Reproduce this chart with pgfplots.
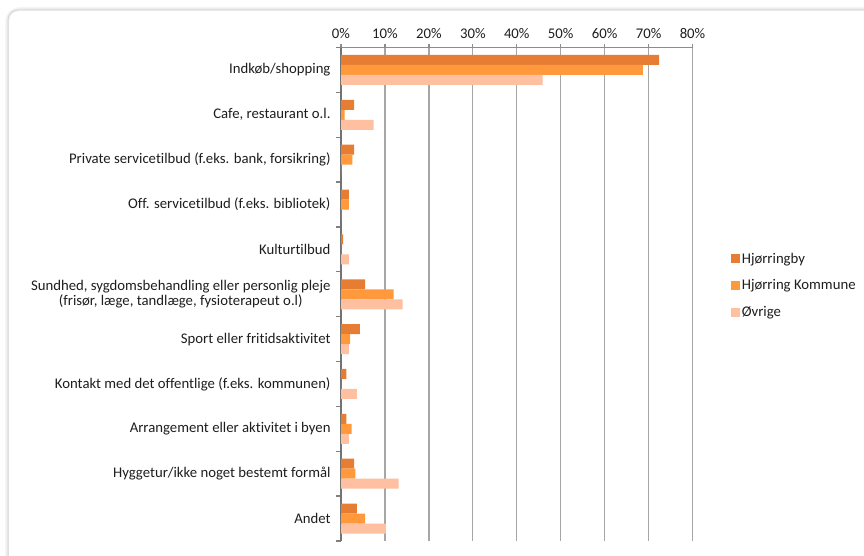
\documentclass[border=0pt]{standalone}
\usepackage{fontspec}
\setmainfont{Carlito}[Ligatures=NoCommon]
\usepackage{pgfplots}
\pgfplotsset{compat=1.18}
\definecolor{cH}{RGB}{230,125,50}
\definecolor{cK}{RGB}{255,153,60}
\definecolor{cO}{RGB}{255,192,162}
\definecolor{txt}{RGB}{30,30,30}
\begin{document}
\begin{tikzpicture}
\useasboundingbox (0,0) rectangle (864bp,556bp);
\fill[white] (0,0) rectangle (864bp,556bp);
\draw[black!4, line width=6bp, rounded corners=12bp] (8bp,-30bp) rectangle (900bp,546bp);
\draw[black!8, line width=3bp, rounded corners=11bp] (8bp,-30bp) rectangle (900bp,546bp);
\draw[black!14, line width=1bp, rounded corners=10bp] (8bp,-30bp) rectangle (900bp,546bp);
\fill[white, rounded corners=10bp] (9bp,-30bp) rectangle (900bp,545bp);
\begin{axis}[
  at={(341bp,15bp)}, anchor=south west, scale only axis,
  width=351.5bp, height=493.5bp,
  xmin=0, xmax=80, ymin=-0.5, ymax=10.5, y dir=reverse,
  axis x line*=top, axis y line*=left,
  x axis line style={draw=black!45, line width=1.6bp, -},
  y axis line style={draw=black!55, line width=2bp, -},
  xtick={0,10,...,80},
  xticklabels={0\%,10\%,20\%,30\%,40\%,50\%,60\%,70\%,80\%},
  xticklabel style={font=\fontsize{14.8}{17.5}\selectfont, text=txt, yshift=1bp},
  xmajorgrids, major x grid style={draw=black!35, line width=1.3bp},
  major x tick style={draw=black!45, line width=1.3bp},
  tick align=outside, major tick length=4bp, minor tick length=5bp,
  ytick={0,...,10},
  yticklabels={Indkøb/shopping, {Cafe, restaurant o.l.}, {Private servicetilbud (f.eks. bank, forsikring)}, Off. servicetilbud (f.eks. bibliotek), Kulturtilbud, {Sundhed, sygdomsbehandling eller personlig pleje \\ (frisør, læge, tandlæge, fysioterapeut o.l)}, Sport eller fritidsaktivitet, {Kontakt med det offentlige (f.eks. kommunen)}, Arrangement eller aktivitet i byen, Hyggetur/ikke noget bestemt formål, Andet},
  yticklabel style={font=\fontsize{14.8}{15.5}\selectfont, text=txt, align=center, xshift=-3bp},
  major y tick style={draw=none},
  minor ytick={-0.5,0.5,...,10.5},
  minor y tick style={draw=black!50, line width=1.3bp},
  xbar, bar width=10bp,
  legend cell align=left,
  legend style={draw=none, fill=none, at={(1.10,0.592)}, anchor=north west,
    font=\fontsize{14.8}{17}\selectfont, text=txt, row sep=11bp,
    /tikz/every odd column/.append style={column sep=0bp}},
  legend image code/.code={\fill[#1,draw=none] (0bp,-4.5bp) rectangle (9bp,4.5bp);},
]
\addplot[fill=cH, draw=none, bar shift=10bp] coordinates {
(72.4,0) (3.0,1) (3.0,2) (1.8,3) (0.5,4) (5.5,5) (4.3,6) (1.2,7) (1.2,8) (3.0,9) (3.6,10)};
\addplot[fill=cK, draw=none, bar shift=0bp] coordinates {
(68.7,0) (0.8,1) (2.6,2) (1.8,3) (0,4) (12.0,5) (2.1,6) (0,7) (2.4,8) (3.3,9) (5.5,10)};
\addplot[fill=cO, draw=none, bar shift=-10bp] coordinates {
(45.9,0) (7.4,1) (0,2) (0,3) (1.8,4) (14.0,5) (1.8,6) (3.6,7) (1.8,8) (13.1,9) (10.2,10)};
\legend{Hjørringby, Hjørring Kommune, Øvrige}
\end{axis}
\end{tikzpicture}
\end{document}
